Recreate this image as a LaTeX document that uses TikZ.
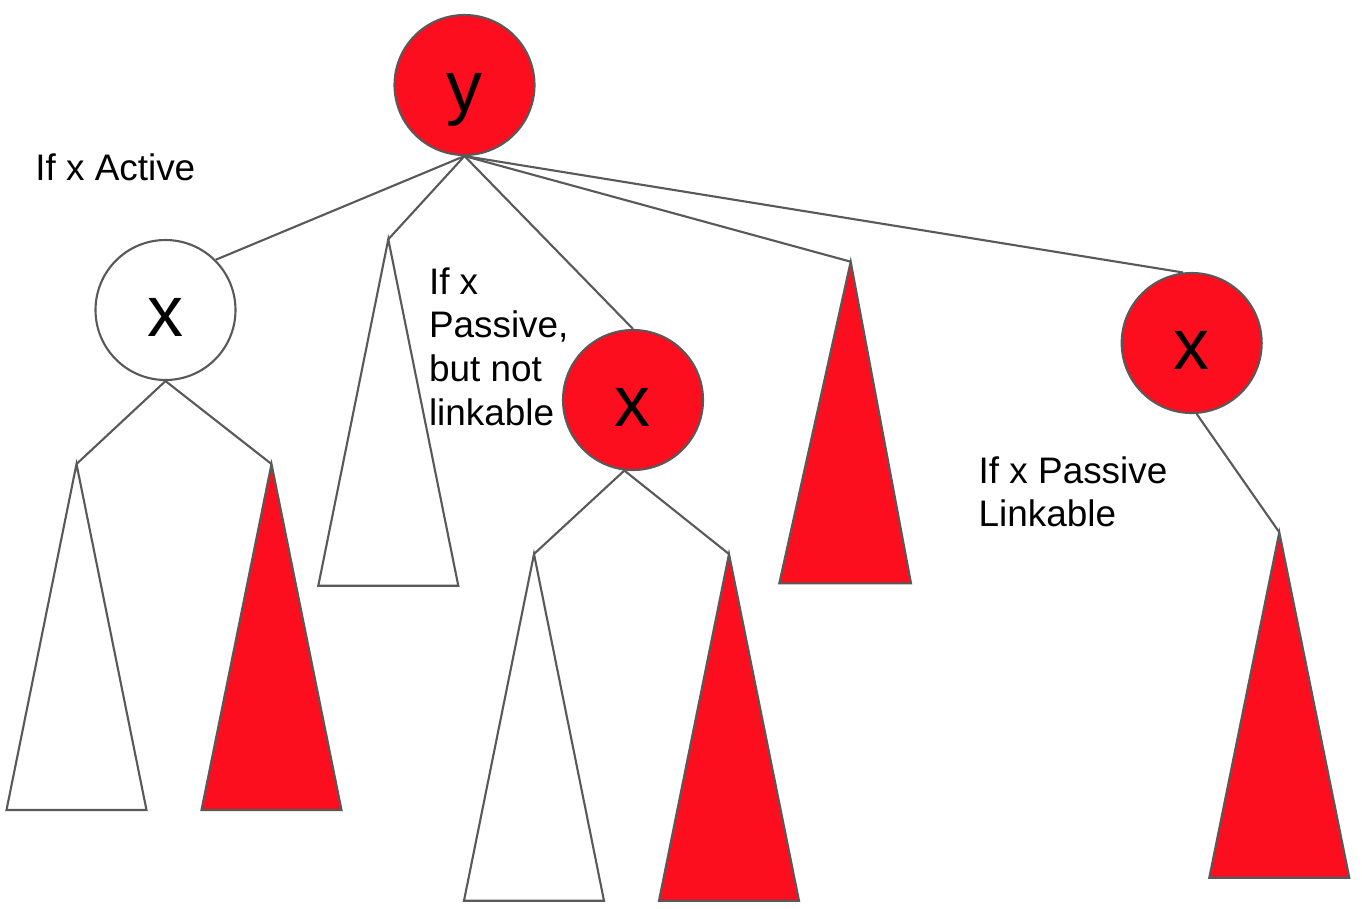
\documentclass[tikz,border=0pt]{standalone}
\usepackage{fontspec}
\setmainfont{Liberation Sans}
\usepackage{tikz}
\usetikzlibrary{shapes.geometric}
\usetikzlibrary{arrows.meta}

\definecolor{nodered}{RGB}{252,14,30}
\definecolor{edgegray}{RGB}{89,89,89}

\begin{document}
\begin{tikzpicture}[
    vertex/.style = {circle, draw = edgegray, line width = 0.6pt, minimum size = 1.4cm, inner sep = 0pt,
                     font = \fontsize{20.5}{24}\selectfont, text height = 19.5pt, text depth = 4.3pt},
    redvertex/.style = {vertex, fill = nodered},
    whitevertex/.style = {vertex, fill = white},
    edge/.style = {draw = edgegray, line width = 0.6pt},
    redtree/.style = {draw = edgegray, line width = 0.6pt, fill = nodered, line join = miter},
    whitetree/.style = {draw = edgegray, line width = 0.6pt, fill = white, line join = miter},
    note/.style = {anchor = base west, inner sep = 0pt, align = left,
                   font = \fontsize{10.5}{12.4}\selectfont}
]
    \useasboundingbox (0, 0) rectangle (13.62, 9.08);
    \node[redvertex] (y) at (4.645, 8.23) {y};
    \node[whitevertex] (xa) at (1.655, 5.98) {x};
    \node[redvertex] (xb) at (6.33, 5.08) {x};
    \node[redvertex] (xc) at (11.917, 5.65) {x};
    \coordinate (ta) at (0.765, 4.44);
    \coordinate (tb) at (2.715, 4.44);
    \coordinate (tc) at (3.883, 6.687);
    \coordinate (td) at (5.34, 3.54);
    \coordinate (te) at (7.29, 3.54);
    \coordinate (tf) at (8.507, 6.463);
    \coordinate (tg) at (12.793, 3.757);
    \draw[whitetree] (ta) -- ++(-0.70, -3.46) -- ++(1.40, 0) -- cycle;
    \draw[redtree] (tb) -- ++(-0.70, -3.46) -- ++(1.40, 0) -- cycle;
    \draw[whitetree] (tc) -- ++(-0.70, -3.464) -- ++(1.40, 0) -- cycle;
    \draw[whitetree] (td) -- ++(-0.70, -3.467) -- ++(1.40, 0) -- cycle;
    \draw[redtree] (te) -- ++(-0.70, -3.467) -- ++(1.40, 0) -- cycle;
    \draw[redtree] (tf) -- ++(-0.714, -3.216) -- ++(1.317, 0) -- cycle;
    \draw[redtree] (tg) -- ++(-0.70, -3.454) -- ++(1.40, 0) -- cycle;
    \draw[edge] (y.south) -- (xa.45);
    \draw[edge] (y.south) -- (tc);
    \draw[edge] (y.south) -- (xb.north);
    \draw[edge] (y.south) -- (tf);
    \draw[edge] (y.south) -- (xc.97);
    \draw[edge] (xa.south) -- (ta);
    \draw[edge] (xa.south) -- (tb);
    \draw[edge] (xb.-97) -- (td);
    \draw[edge] (xb.-97) -- (te);
    \draw[edge] (xc.-86) -- (tg);
    \node[note] (active) at (0.346, 7.28) {If x Active};
    \node[note] (notlinkable) at (4.283, 4.83) {If x\\Passive,\\but not\\linkable};
    \node[note] (linkable) at (9.78, 3.813) {If x Passive\\Linkable};
\end{tikzpicture}
\end{document}
